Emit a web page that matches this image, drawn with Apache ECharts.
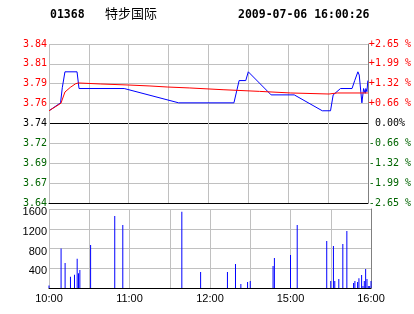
<!DOCTYPE html>
<html><head><meta charset="utf-8">
<script src="https://cdn.jsdelivr.net/npm/echarts@6/dist/echarts.min.js"></script>
<style>html,body{margin:0;padding:0;background:#fff}#c{width:414px;height:314px}</style>
</head><body><div id="c"></div>
<script>
// ---- data ----
const stockCode = '01368';
const stockName = '特步国际';
const stampText = '2009-07-06 16:00:26';
// minutes since 10:00 on the trading clock (10:00-12:30, 14:30-16:00 => 0..240)
const timeTickMinutes = [0, 60, 120, 180, 240];
const timeTickLabels = ['10:00', '11:00', '12:00', '15:00', '16:00'];
const priceLeftLabels = ['3.64', '3.67', '3.69', '3.72', '3.74', '3.76', '3.79', '3.81', '3.84'];
const pctRightLabels = ['-2.65 %', '-1.99 %', '-1.32 %', '-0.66 %', ' 0.00%', '+0.66 %', '+1.32 %', '+1.99 %', '+2.65 %'];
const priceMinutes = [0, 8.7, 10, 12, 21.1, 22.6, 56.6, 97.6, 139.2, 143.1, 148.1, 150, 167.2, 184.6, 205.7, 211.9, 213.9, 219.4, 228.1, 230.1, 232.5, 233.5, 235.5, 236.8, 238, 238.5, 239.3, 240];
const priceValues  = [3.756, 3.766, 3.785, 3.805, 3.805, 3.784, 3.784, 3.766, 3.766, 3.794, 3.794, 3.805, 3.776, 3.776, 3.756, 3.756, 3.776, 3.784, 3.784, 3.794, 3.805, 3.801, 3.766, 3.784, 3.778, 3.784, 3.780, 3.794];
const avgMinutes = [0, 9, 12, 16, 20, 22, 39, 60, 76, 89, 106, 131, 158.5, 182, 210.7, 216.9, 240];
const avgValues  = [3.756, 3.7655, 3.7796, 3.7854, 3.790, 3.791, 3.7897, 3.7884, 3.7872, 3.7859, 3.7847, 3.7825, 3.7804, 3.7784, 3.7771, 3.7784, 3.7784];
const volMinutes = [0, 9, 12, 16, 19, 21, 22, 23, 31, 49, 55, 99, 113, 133, 139, 143, 148, 150, 167, 168, 180, 185, 207, 210, 212, 213, 216, 219, 222, 227, 228, 230, 231, 233, 234, 235, 236, 237, 238, 239, 240];
const volValues  = [50, 800, 505, 230, 270, 590, 300, 365, 870, 1460, 1275, 1545, 325, 325, 485, 80, 120, 140, 445, 610, 670, 1275, 950, 140, 850, 140, 180, 890, 1155, 100, 140, 120, 200, 265, 40, 140, 385, 180, 40, 40, 140];

const GRID = '#c0c0c0', RED = '#ff0000', GREEN = '#006400';
const monoFont = '"DejaVu Sans Mono", monospace';
const sansFont = '"Liberation Sans", Arial, sans-serif';

const chart = echarts.init(document.getElementById('c'), null, {renderer: 'canvas'});
const pair = (xs, ys) => xs.map((x, i) => [x, ys[i]]);
const priceColor = (v, i) => i > 4 ? RED : (i === 4 ? '#000' : GREEN);

chart.setOption({
  animation: false,
  backgroundColor: '#fff',
  title: [
    {text: stockCode, left: 50, top: 9, padding: 0, textStyle: {fontFamily: monoFont, fontWeight: 'bold', fontSize: 11.5, color: '#000'}},
    {text: stockName, left: 105, top: 7, padding: 0, textStyle: {fontFamily: '"Noto Sans CJK SC", sans-serif', fontWeight: 'normal', fontSize: 13, color: '#000'}},
    {text: stampText, left: 238, top: 9, padding: 0, textStyle: {fontFamily: monoFont, fontWeight: 'bold', fontSize: 11.5, color: '#000'}}
  ],
  grid: [
    {left: 49, top: 44, width: 322, height: 159},
    {left: 49, top: 209, width: 322, height: 79}
  ],
  xAxis: [
    {gridIndex: 0, type: 'value', min: 0, max: 240, interval: 30,
     axisLine: {show: true, lineStyle: {color: '#000', width: 1}}, axisTick: {show: false}, axisLabel: {show: false},
     splitLine: {show: true, lineStyle: {color: GRID, width: 1}}},
    {gridIndex: 1, type: 'value', min: 0, max: 240, interval: 30,
     axisLine: {show: true, lineStyle: {color: '#000', width: 1}}, axisTick: {show: false},
     axisLabel: {show: true, margin: 5, fontFamily: sansFont, fontSize: 11, color: '#000',
       formatter: v => { const k = timeTickMinutes.indexOf(v); return k >= 0 ? timeTickLabels[k] : ''; }},
     splitLine: {show: true, lineStyle: {color: GRID, width: 1}}}
  ],
  yAxis: [
    {gridIndex: 0, type: 'value', min: 3.64, max: 3.84, interval: 0.025, position: 'left',
     axisLine: {show: false}, axisTick: {show: false},
     axisLabel: {margin: 2, fontFamily: monoFont, fontSize: 10, color: priceColor,
       formatter: (v, i) => priceLeftLabels[i]},
     splitLine: {show: true, lineStyle: {color: ['#000', GRID, GRID, GRID, '#000', GRID, GRID, GRID, GRID], width: 1}}},
    {gridIndex: 0, type: 'value', min: 3.64, max: 3.84, interval: 0.025, position: 'right',
     axisLine: {show: true, lineStyle: {color: '#808080'}}, axisTick: {show: false},
     axisLabel: {margin: 1, fontFamily: monoFont, fontSize: 10, color: priceColor,
       formatter: (v, i) => pctRightLabels[i]},
     splitLine: {show: false}},
    {gridIndex: 1, type: 'value', min: 0, max: 1600, interval: 400, position: 'left',
     axisLine: {show: false}, axisTick: {show: false},
     axisLabel: {margin: 2, color: '#000',
       formatter: v => v === 0 ? '' : '{v|' + v + '}',
       rich: {v: {fontFamily: sansFont, fontSize: 11, color: '#000', padding: [6, 0, 0, 0]}}},
     splitLine: {show: true, lineStyle: {color: GRID, width: 1}}},
    {gridIndex: 1, type: 'value', min: 0, max: 1600, interval: 400, position: 'right',
     axisLine: {show: true, lineStyle: {color: '#808080'}}, axisTick: {show: false},
     axisLabel: {show: false}, splitLine: {show: false}}
  ],
  series: [
    {type: 'line', xAxisIndex: 0, yAxisIndex: 0, data: pair(priceMinutes, priceValues),
     showSymbol: false, lineStyle: {color: '#0000ff', width: 1}, z: 3},
    {type: 'line', xAxisIndex: 0, yAxisIndex: 0, data: pair(avgMinutes, avgValues),
     showSymbol: false, lineStyle: {color: RED, width: 1}, z: 4},
    {type: 'bar', xAxisIndex: 1, yAxisIndex: 2, data: pair(volMinutes, volValues),
     barWidth: 1, itemStyle: {color: '#0000ff'}}
  ]
});
</script></body></html>
